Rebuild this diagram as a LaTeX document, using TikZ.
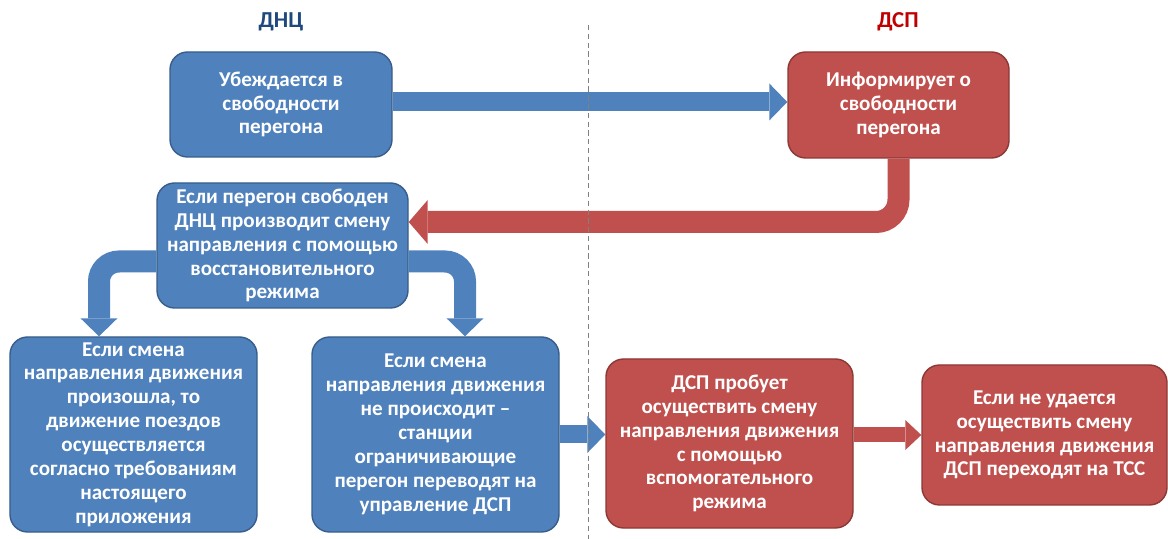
\documentclass[tikz,border=0pt]{standalone}
\usepackage{fontspec}
\setmainfont{Carlito}
\usepackage{xcolor}
\usetikzlibrary{arrows.meta,positioning,calc}
\definecolor{DNCBlue}{RGB}{79,129,189}
\definecolor{DNCEdge}{RGB}{56,93,138}
\definecolor{DSPRed}{RGB}{192,80,77}
\definecolor{DSPEdge}{RGB}{140,56,54}
\definecolor{DNCHead}{RGB}{31,73,125}
\definecolor{DSPHead}{RGB}{192,0,0}
\tikzset{
  bbox/.style={draw=DNCEdge,fill=DNCBlue,line width=0.8pt,rounded corners=10pt,text=white,align=center,inner sep=0pt},
  rbox/.style={draw=DSPEdge,fill=DSPRed,line width=0.8pt,rounded corners=10pt,text=white,align=center,inner sep=0pt},
  barr/.style={DNCBlue,line width=0.38cm,-{Triangle[length=0.36cm,width=0.74cm,line width=0pt]}},
  rarr/.style={DSPRed,line width=0.44cm,-{Triangle[length=0.38cm,width=0.88cm,line width=0pt]}},
  head/.style={font=\bfseries\fontsize{13}{15}\selectfont},
}

\begin{document}
\begin{tikzpicture}[font=\bfseries\fontsize{12}{13.6}\selectfont]
        \useasboundingbox (0,0) rectangle (23.36,-10.78);
        \node[head,DNCHead] (dnc) at (5.62,-0.44) {ДНЦ};
        \node[head,DSPHead] (dsp) at (17.96,-0.44) {ДСП};
        \node[bbox,minimum width=4.44cm,minimum height=2.10cm] (check) at (5.62,-2.09) {Убеждается в\\свободности\\перегона};
        \node[rbox,minimum width=4.42cm,minimum height=2.12cm] (inform) at (17.97,-2.10) {Информирует о\\свободности\\перегона};
        \node[bbox,minimum width=5.02cm,minimum height=2.50cm] (change) at (5.65,-4.91) {Если перегон свободен\\ДНЦ производит смену\\направления с помощью\\восстановительного\\режима};
        \node[bbox,minimum width=4.94cm,minimum height=3.90cm] (done) at (2.67,-8.69) {Если смена\\направления движения\\произошла, то\\движение поездов\\осуществляется\\согласно требованиям\\настоящего\\приложения};
        \node[bbox,minimum width=4.94cm,minimum height=3.90cm] (fail) at (8.71,-8.69) {Если смена\\направления движения\\не происходит –\\станции\\ограничивающие\\перегон переводят на\\управление ДСП};
        \node[rbox,minimum width=4.94cm,minimum height=3.38cm] (aux) at (14.59,-8.87) {ДСП пробует\\осуществить смену\\направления движения\\с помощью\\вспомогательного\\режима};
        \node[rbox,minimum width=4.90cm,minimum height=2.80cm] (tss) at (20.89,-8.70) {Если не удается\\осуществить смену\\направления движения\\ДСП переходят на ТСС};
        \draw[barr] ([yshift=0.05cm]check.east) -- ([yshift=0.05cm]check.east -| inform.west);
        \draw[rarr,rounded corners=0.45cm] (inform.south) |- ([yshift=0.47cm]change.east);
        \draw[barr,line width=0.44cm,rounded corners=0.4cm] ([yshift=-0.32cm]change.west) -| ([xshift=-0.69cm]done.north);
        \draw[barr,line width=0.44cm,rounded corners=0.4cm] ([yshift=-0.32cm]change.east) -| ([xshift=0.59cm]fail.north);
        \draw[barr,line width=0.36cm] (fail.east) -- (fail.east -| aux.west);
        \draw[rarr,line width=0.3cm,-{Triangle[length=0.32cm,width=0.6cm,line width=0pt]}] (tss.west -| aux.east) -- (tss.west);
        \coordinate (split top) at (11.76,-0.5);
        \coordinate (split bot) at (11.76,-10.78);
        \draw[gray,line width=0.5pt,dash pattern=on 3pt off 2pt] (split top) -- (split bot);
      \end{tikzpicture}
\end{document}
